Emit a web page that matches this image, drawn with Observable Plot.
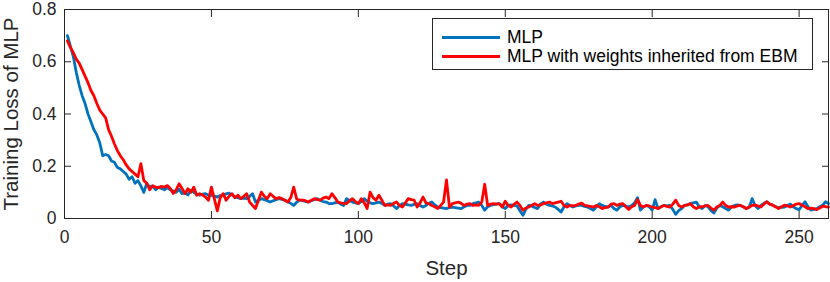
<!DOCTYPE html>
<html>
<head>
<meta charset="utf-8">
<script src="https://cdn.jsdelivr.net/npm/d3@7"></script>
<script src="https://cdn.jsdelivr.net/npm/@observablehq/plot@0.6"></script>
<style>
  html, body { margin: 0; padding: 0; background: #fff; }
  #wrap { position: relative; width: 830px; height: 282px; font-family: "Liberation Sans", Arial, Helvetica, sans-serif; }
  #legend { position: absolute; left: 432px; top: 18px; width: 379px; height: 50px; border: 1px solid #262626; background: #fff; box-sizing: content-box; }
  .row { position: absolute; left: 9px; height: 20px; display: flex; align-items: center; font-size: 17.5px; color: #000; white-space: nowrap; }
  .swatch { width: 58px; height: 3px; margin-right: 7px; }
</style>
</head>
<body>
<div id="wrap"></div>
<script>
const seriesNames = ["MLP", "MLP with weights inherited from EBM"];
const seriesColors = ["#0072BD", "#FF0000"];
const xTicks = [0, 50, 100, 150, 200, 250];
const yTicks = [0, 0.2, 0.4, 0.6, 0.8];

const lossMLP = [
0.70,0.66,0.62,0.56,0.51,0.47,0.44,0.40,0.37,0.34,
0.32,0.29,0.24,0.245,0.24,0.22,0.215,0.195,0.19,0.18,
0.17,0.15,0.16,0.135,0.145,0.125,0.10,0.135,0.12,0.125,
0.11,0.12,0.115,0.11,0.118,0.11,0.105,0.10,0.112,0.095,
0.10,0.09,0.108,0.10,0.092,0.089,0.093,0.095,0.09,0.089,
0.086,0.082,0.088,0.09,0.094,0.097,0.09,0.082,0.08,0.076,
0.078,0.076,0.085,0.095,0.063,0.07,0.076,0.072,0.068,0.063,
0.068,0.072,0.076,0.073,0.07,0.065,0.058,0.05,0.062,0.07,
0.068,0.065,0.063,0.068,0.072,0.076,0.07,0.065,0.063,0.057,
0.057,0.06,0.063,0.055,0.05,0.076,0.068,0.063,0.06,0.057,
0.065,0.076,0.066,0.06,0.057,0.06,0.063,0.058,0.05,0.055,
0.057,0.048,0.038,0.05,0.057,0.055,0.052,0.05,0.054,0.057,
0.05,0.044,0.05,0.058,0.063,0.052,0.044,0.042,0.04,0.038,
0.042,0.044,0.042,0.04,0.038,0.045,0.05,0.05,0.057,0.06,
0.063,0.05,0.032,0.045,0.05,0.053,0.055,0.057,0.045,0.038,
0.05,0.052,0.05,0.048,0.03,0.012,0.035,0.05,0.048,0.042,
0.038,0.055,0.063,0.055,0.05,0.048,0.044,0.035,0.025,0.045,
0.057,0.05,0.044,0.048,0.05,0.05,0.046,0.044,0.038,0.032,
0.045,0.057,0.05,0.046,0.044,0.05,0.038,0.032,0.045,0.05,
0.048,0.044,0.05,0.06,0.08,0.032,0.045,0.05,0.045,0.032,
0.072,0.038,0.045,0.05,0.048,0.05,0.035,0.016,0.03,0.038,
0.05,0.052,0.057,0.06,0.063,0.045,0.038,0.05,0.045,0.03,
0.021,0.04,0.05,0.045,0.038,0.032,0.045,0.05,0.052,0.05,
0.045,0.038,0.042,0.076,0.05,0.038,0.05,0.058,0.064,0.055,
0.051,0.045,0.042,0.043,0.044,0.05,0.055,0.045,0.038,0.034,
0.05,0.064,0.045,0.032,0.035,0.038,0.045,0.051,0.064,0.057
];

const lossInherited = [
0.68,0.655,0.635,0.61,0.595,0.57,0.545,0.52,0.49,0.47,
0.44,0.415,0.40,0.385,0.34,0.315,0.285,0.26,0.24,0.225,
0.205,0.19,0.18,0.17,0.16,0.21,0.145,0.135,0.11,0.125,
0.12,0.118,0.123,0.12,0.126,0.115,0.096,0.11,0.133,0.115,
0.095,0.114,0.10,0.12,0.089,0.095,0.09,0.082,0.07,0.12,
0.075,0.029,0.08,0.095,0.07,0.085,0.095,0.08,0.089,0.076,
0.085,0.095,0.063,0.05,0.038,0.07,0.101,0.085,0.076,0.095,
0.085,0.076,0.08,0.076,0.07,0.063,0.08,0.12,0.075,0.07,
0.07,0.068,0.063,0.07,0.076,0.072,0.07,0.078,0.082,0.076,
0.095,0.08,0.063,0.06,0.058,0.057,0.068,0.076,0.065,0.057,
0.076,0.06,0.038,0.101,0.08,0.07,0.089,0.07,0.05,0.052,
0.05,0.058,0.063,0.05,0.044,0.06,0.076,0.072,0.07,0.044,
0.06,0.082,0.06,0.057,0.05,0.045,0.038,0.05,0.063,0.148,
0.044,0.057,0.06,0.063,0.058,0.05,0.055,0.057,0.05,0.052,
0.05,0.063,0.131,0.05,0.055,0.057,0.055,0.057,0.044,0.066,
0.05,0.044,0.055,0.063,0.05,0.032,0.04,0.044,0.05,0.057,
0.05,0.052,0.057,0.06,0.063,0.057,0.06,0.063,0.066,0.05,
0.044,0.05,0.048,0.05,0.055,0.059,0.05,0.048,0.046,0.044,
0.05,0.045,0.038,0.042,0.044,0.055,0.057,0.05,0.055,0.057,
0.045,0.034,0.045,0.05,0.072,0.05,0.044,0.05,0.048,0.044,
0.042,0.038,0.045,0.05,0.046,0.044,0.055,0.07,0.05,0.044,
0.05,0.052,0.057,0.045,0.038,0.044,0.045,0.048,0.05,0.04,
0.032,0.044,0.05,0.063,0.05,0.044,0.045,0.044,0.048,0.05,
0.045,0.038,0.044,0.05,0.051,0.048,0.044,0.055,0.064,0.055,
0.051,0.045,0.038,0.045,0.051,0.048,0.044,0.05,0.055,0.057,
0.051,0.045,0.038,0.04,0.038,0.034,0.04,0.047,0.045,0.044
];

const steps = lossMLP.map((_, i) => i + 1);
const dataA = steps.map((s, i) => ({step: s, loss: lossMLP[i]}));
const dataB = steps.map((s, i) => ({step: s, loss: lossInherited[i]}));

const axisColor = "#262626";
const fmtY = d => String(+d.toFixed(1));

const chart = Plot.plot({
  width: 830,
  height: 282,
  marginLeft: 64,
  marginRight: 2,
  marginTop: 9,
  marginBottom: 64,
  style: {fontFamily: '"Liberation Sans", Arial, Helvetica, sans-serif', fontSize: "17.5px", color: axisColor, background: "#fff"},
  x: {domain: [0, 260]},
  y: {domain: [0, 0.8]},
  marks: [
    Plot.line(dataA, {x: "step", y: "loss", stroke: seriesColors[0], strokeWidth: 2.8}),
    Plot.line(dataB, {x: "step", y: "loss", stroke: seriesColors[1], strokeWidth: 2.8}),
    Plot.frame({stroke: axisColor, strokeWidth: 1}),
    Plot.axisX({anchor: "bottom", ticks: xTicks, tickSize: -7, tickPadding: 19, tickFormat: d => String(d), label: "Step", labelAnchor: "center", labelArrow: "none", labelOffset: 56, fontSize: 17.5, stroke: axisColor}),
    Plot.axisX({anchor: "top", ticks: xTicks, tickSize: -7, tickFormat: () => "", label: null, stroke: axisColor}),
    Plot.axisY({anchor: "left", ticks: yTicks, tickSize: -7, tickPadding: 15, tickFormat: fmtY, label: "Training Loss of MLP", labelAnchor: "center", labelArrow: "none", labelOffset: 61, fontSize: 17.5, stroke: axisColor}),
    Plot.axisY({anchor: "right", ticks: yTicks, tickSize: -7, tickFormat: () => "", label: null, stroke: axisColor})
  ]
});

const wrap = document.getElementById("wrap");
wrap.appendChild(chart);
chart.querySelectorAll("g[aria-label='x-axis label'] text, g[aria-label='y-axis label'] text").forEach(t => t.setAttribute("font-size", "20.5"));

const legend = document.createElement("div");
legend.id = "legend";
seriesNames.forEach((name, i) => {
  const row = document.createElement("div");
  row.className = "row";
  row.style.top = (8 + i * 19) + "px";
  const sw = document.createElement("div");
  sw.className = "swatch";
  sw.style.background = seriesColors[i];
  const tx = document.createElement("span");
  tx.textContent = name;
  row.appendChild(sw);
  row.appendChild(tx);
  legend.appendChild(row);
});
wrap.appendChild(legend);
</script>
</body>
</html>
